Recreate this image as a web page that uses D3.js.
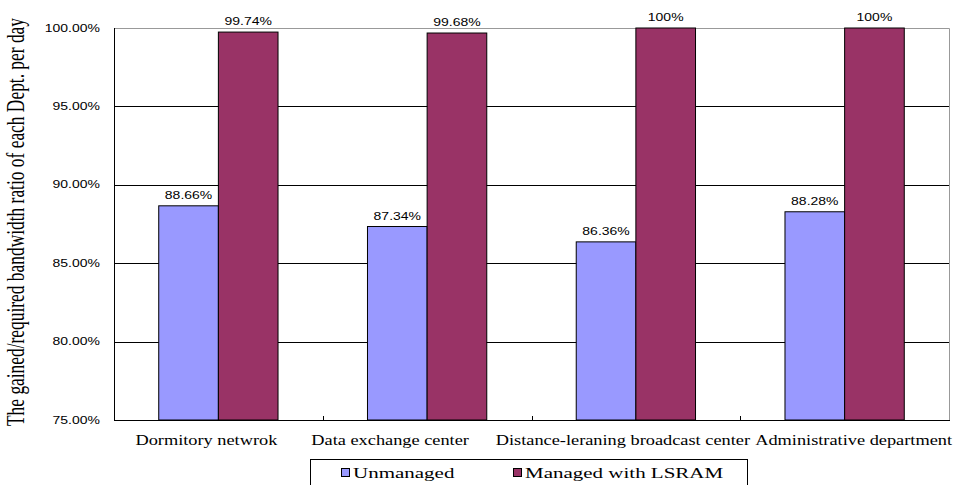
<!DOCTYPE html>
<html>
<head>
<meta charset="utf-8">
<script src="https://cdn.jsdelivr.net/npm/d3@7/dist/d3.min.js"></script>
<style>
  html, body { margin: 0; padding: 0; background: #fff; }
  svg { display: block; }
  .serif { font-family: "Liberation Serif", "Times New Roman", serif; font-size: 15px; fill: #000; }
  .cat { font-family: "Liberation Serif", "Times New Roman", serif; font-size: 14px; fill: #000; }
  .title { font-family: "Liberation Serif", "Times New Roman", serif; font-size: 17.4px; fill: #000; }
  .sans { font-family: "Liberation Sans", Arial, sans-serif; font-size: 10px; fill: #000; }
</style>
</head>
<body>
<svg id="chart" width="958" height="485"></svg>
<script>
// ---- data ----
const categories = ["Dormitory netwrok", "Data exchange center", "Distance-leraning broadcast center", "Administrative department"];
const seriesNames = ["Unmanaged", "Managed with LSRAM"];
const unmanaged = [88.66, 87.34, 86.36, 88.28];
const managed = [99.74, 99.68, 100, 100];
const valueLabels = [["88.66%", "87.34%", "86.36%", "88.28%"], ["99.74%", "99.68%", "100%", "100%"]];
const yTicks = [75, 80, 85, 90, 95, 100];
const yTickLabels = ["75.00%", "80.00%", "85.00%", "90.00%", "95.00%", "100.00%"];
const yTitle = "The gained/required bandwidth ratio of each Dept. per day";

// ---- layout / style ----
const SX = 1.4;                 // horizontal text stretch
const SX_CAT = 1.31;
const colors = ["#9999FF", "#993366"];
const plot = { left: 114, right: 949, top: 28, bottom: 420 };
const catLabelNudge = [-12, -37, -13, 9];

const svg = d3.select("#chart");
const x = d3.scaleBand().domain(categories).range([plot.left, plot.right]).paddingInner(0).paddingOuter(0);
const xs = d3.scaleBand().domain(seriesNames).range([0, x.bandwidth()]).paddingInner(0).paddingOuter(0.75);
const y = d3.scaleLinear().domain([75, 100]).range([plot.bottom, plot.top]);

function stretchText(sel, px, py, anchor, txt, cls, sx = SX) {
  return sel.append("text")
    .attr("class", cls)
    .attr("transform", `translate(${px},${py}) scale(${sx},1)`)
    .attr("text-anchor", anchor)
    .text(txt);
}

// gridlines
svg.append("g").selectAll("line").data(yTicks.filter(t => t > 75 && t < 100)).join("line")
  .attr("x1", plot.left).attr("x2", plot.right)
  .attr("y1", d => Math.round(y(d)) + 0.5).attr("y2", d => Math.round(y(d)) + 0.5)
  .attr("stroke", "#000").attr("stroke-width", 1);

// plot border top/right (gray)
svg.append("path")
  .attr("d", `M${plot.left},${y(100) + 0.5}H${plot.right + 0.5}V${plot.bottom}`)
  .attr("fill", "none").attr("stroke", "#999").attr("stroke-width", 1);

// bars
const series = [unmanaged, managed];
series.forEach((vals, si) => {
  svg.append("g").selectAll("rect").data(vals).join("rect")
    .attr("x", (d, i) => x(categories[i]) + xs(seriesNames[si]))
    .attr("width", xs.bandwidth())
    .attr("y", d => y(d))
    .attr("height", d => y(75) - y(d))
    .attr("fill", colors[si])
    .attr("stroke", "#000").attr("stroke-width", 1);
  vals.forEach((d, i) => {
    const cx = x(categories[i]) + xs(seriesNames[si]) + xs.bandwidth() / 2;
    stretchText(svg, cx, y(d) - 7, "middle", valueLabels[si][i], "sans");
  });
});

// axes lines
svg.append("line").attr("x1", plot.left + 0.5).attr("x2", plot.left + 0.5)
  .attr("y1", plot.top).attr("y2", plot.bottom + 0.5).attr("stroke", "#000");
svg.append("line").attr("x1", plot.left).attr("x2", plot.right + 1)
  .attr("y1", plot.bottom + 0.5).attr("y2", plot.bottom + 0.5).attr("stroke", "#000");
// category boundary ticks (inward)
svg.append("g").selectAll("line").data(categories.slice(1)).join("line")
  .attr("x1", d => Math.round(x(d)) + 0.5).attr("x2", d => Math.round(x(d)) + 0.5)
  .attr("y1", plot.bottom - 4).attr("y2", plot.bottom)
  .attr("stroke", "#000");

// y tick labels
yTicks.forEach((t, i) => stretchText(svg, 100, y(t) + 3.5, "end", yTickLabels[i], "sans"));

// category labels
categories.forEach((c, i) => stretchText(svg, x(c) + x.bandwidth() / 2 + catLabelNudge[i], 445, "middle", c, "cat", SX_CAT));

// y title
svg.append("text").attr("class", "title")
  .attr("transform", `translate(24,${(plot.top + plot.bottom) / 2 - 2}) rotate(-90) scale(1,${SX})`)
  .attr("text-anchor", "middle")
  .text(yTitle);

// legend
const lg = svg.append("g");
lg.append("rect").attr("x", 310.5).attr("y", 459.5).attr("width", 437).attr("height", 40)
  .attr("fill", "#fff").attr("stroke", "#000");
const legendX = [341, 513];
seriesNames.forEach((s, i) => {
  lg.append("rect").attr("x", legendX[i] + 0.5).attr("y", 468.5).attr("width", 8).attr("height", 8)
    .attr("fill", colors[i]).attr("stroke", "#000");
  stretchText(lg, legendX[i] + 12, 478, "start", s, "serif");
});
</script>
</body>
</html>
